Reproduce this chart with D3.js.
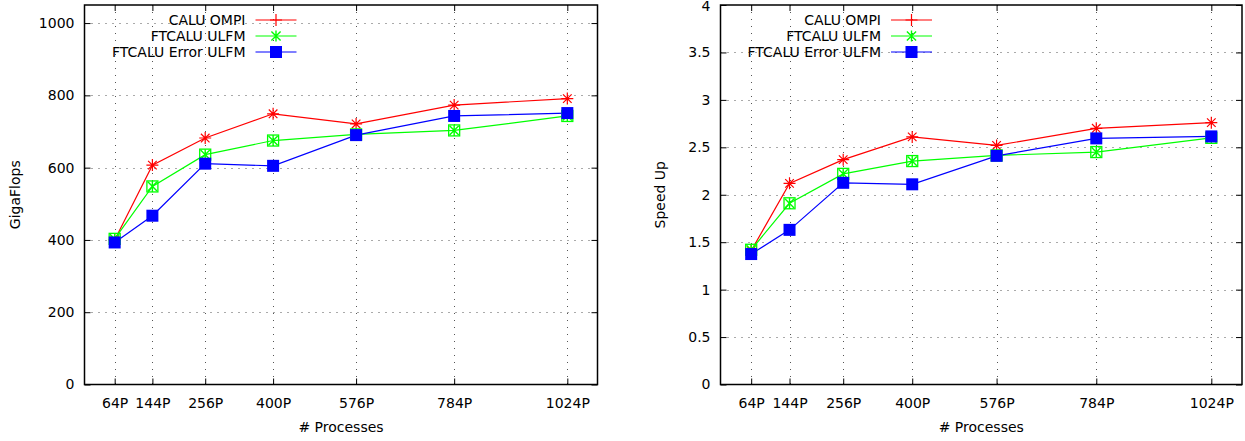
<!DOCTYPE html>
<html>
<head>
<meta charset="utf-8">
<script src="https://cdn.jsdelivr.net/npm/d3@7"></script>
<style>
  body { margin: 0; background: #fff; }
  svg { display: block; }
  text { font-family: "DejaVu Sans", sans-serif; font-size: 14px; fill: #000; }
</style>
</head>
<body>
<svg id="chart" width="1245" height="441"></svg>
<script>
// ---------------- data ----------------
const processes = [64, 144, 256, 400, 576, 784, 1024];
const processLabels = ["64P", "144P", "256P", "400P", "576P", "784P", "1024P"];
const seriesNames = ["CALU OMPI", "FTCALU ULFM", "FTCALU Error ULFM"];

const gflopsCALU    = [400, 607, 682, 749, 721, 773, 791];
const gflopsFTCALU  = [403, 548, 636, 675, 692, 703, 743];
const gflopsError   = [393, 467, 611, 605, 690, 743, 751];

const speedCALU     = [1.41, 2.12, 2.37, 2.61, 2.52, 2.70, 2.76];
const speedFTCALU   = [1.42, 1.91, 2.22, 2.355, 2.415, 2.45, 2.60];
const speedError    = [1.375, 1.63, 2.126, 2.11, 2.41, 2.594, 2.615];

const gflopsTicks = [0, 200, 400, 600, 800, 1000];
const speedTicks  = [0, 0.5, 1, 1.5, 2, 2.5, 3, 3.5, 4];

// ---------------- drawing ----------------
const colors = ["#ff0000", "#00ff00", "#0000ff"];
const svg = d3.select("#chart");

function drawMarker(g, type, x, y, legend) {
  if (type === 0) {
    if (legend) {
      g.append("path").attr("d", `M${x-6},${y}H${x+6}M${x},${y-6}V${y+6}`)
        .attr("stroke", colors[0]).attr("stroke-width", 1.2).attr("fill", "none");
    } else {
      const r = 6, d = 4.3;
      g.append("path").attr("d",
        `M${x-r},${y}H${x+r}M${x},${y-r}V${y+r}M${x-d},${y-d}L${x+d},${y+d}M${x-d},${y+d}L${x+d},${y-d}`)
        .attr("stroke", colors[0]).attr("stroke-width", 1.2).attr("fill", "none");
    }
  } else if (type === 1) {
    const r = 5.5, d = 4.6;
    g.append("path").attr("d",
      `M${x},${y-r}V${y+r}M${x-d},${y-d}L${x+d},${y+d}M${x-d},${y+d}L${x+d},${y-d}`)
      .attr("stroke", colors[1]).attr("stroke-width", 1.4).attr("fill", "none");
    if (!legend) {
      g.append("rect").attr("x", x - 5.5).attr("y", y - 5.5).attr("width", 11).attr("height", 11)
        .attr("stroke", colors[1]).attr("stroke-width", 1.3).attr("fill", "none");
    }
  } else {
    g.append("rect").attr("x", x - 6).attr("y", y - 6).attr("width", 12).attr("height", 12)
      .attr("fill", colors[2]);
  }
}

function panel(opts) {
  const { left, right, top, bottom, yMax, yTicks, ylabel, ylabelX, series, legendX } = opts;
  const x = d3.scaleLinear().domain([0, 1088]).range([left, right]);
  const y = d3.scaleLinear().domain([0, yMax]).range([bottom, top]);
  const g = svg.append("g");

  // grid
  const grid = g.append("g").attr("stroke", "#555").attr("stroke-width", 1)
    .attr("stroke-dasharray", "1,6").attr("fill", "none");
  yTicks.filter(t => t > 0 && y(t) > top + 1).forEach(t => {
    grid.append("line").attr("x1", left).attr("x2", right)
      .attr("y1", Math.round(y(t)) + 0.5).attr("y2", Math.round(y(t)) + 0.5);
  });
  processes.forEach(p => {
    grid.append("line").attr("x1", Math.round(x(p)) + 0.5).attr("x2", Math.round(x(p)) + 0.5)
      .attr("y1", top).attr("y2", bottom);
  });

  // axes (ticks inward, mirrored)
  const yAxis = d3.axisLeft(y).tickValues(yTicks).tickSize(-6).tickPadding(10)
    .tickFormat(d3.format("~g"));
  const ya = g.append("g").attr("transform", `translate(${left},0)`).call(yAxis);
  const xAxis = d3.axisBottom(x).tickValues(processes).tickSize(-6).tickPadding(14)
    .tickFormat((d, i) => processLabels[i]);
  const xa = g.append("g").attr("transform", `translate(0,${bottom})`).call(xAxis);
  const ya2 = g.append("g").attr("transform", `translate(${right},0)`)
    .call(d3.axisRight(y).tickValues(yTicks).tickSize(-6).tickFormat(""));
  const xa2 = g.append("g").attr("transform", `translate(0,${top})`)
    .call(d3.axisTop(x).tickValues(processes).tickSize(-6).tickFormat(""));
  [ya, xa, ya2, xa2].forEach(a => {
    a.select(".domain").remove();
    a.selectAll("text").attr("font-family", "DejaVu Sans").attr("font-size", 14).attr("fill", "#000");
    a.selectAll("line").attr("stroke", "#000");
  });
  // keep the topmost label inside the picture
  ya.selectAll(".tick").filter(d => y(d) < top + 4).select("text").attr("dy", "0.42em");

  // border
  g.append("rect").attr("x", left).attr("y", top).attr("width", right - left).attr("height", bottom - top)
    .attr("fill", "none").attr("stroke", "#000").attr("stroke-width", 1.5);

  // labels
  g.append("text").attr("x", (left + right) / 2).attr("y", bottom + 47)
    .attr("text-anchor", "middle").text("# Processes");
  g.append("text").attr("transform", `translate(${ylabelX},${(top + bottom) / 2}) rotate(-90)`)
    .attr("text-anchor", "middle").text(ylabel);

  // series
  const line = d3.line().x((d, i) => x(processes[i])).y(d => y(d));
  series.forEach((vals, si) => {
    g.append("path").datum(vals).attr("d", line).attr("fill", "none")
      .attr("stroke", colors[si]).attr("stroke-width", 1.2);
  });
  series.forEach((vals, si) => {
    vals.forEach((v, i) => drawMarker(g, si, x(processes[i]), y(v), false));
  });

  // legend
  seriesNames.forEach((name, si) => {
    const ly = 20 + si * 16;
    g.append("text").attr("x", legendX).attr("y", ly).attr("dy", "0.35em")
      .attr("text-anchor", "end").text(name);
    g.append("line").attr("x1", legendX + 10).attr("x2", legendX + 51)
      .attr("y1", ly).attr("y2", ly).attr("stroke", colors[si]).attr("stroke-width", 1.2);
    drawMarker(g, si, legendX + 30.5, ly, true);
  });
}

panel({
  left: 84.5, right: 597.5, top: 5, bottom: 384.5, yMax: 1050,
  yTicks: gflopsTicks, ylabel: "GigaFlops", ylabelX: 20,
  series: [gflopsCALU, gflopsFTCALU, gflopsError], legendX: 245.5
});
panel({
  left: 720.5, right: 1242, top: 5, bottom: 384.5, yMax: 4,
  yTicks: speedTicks, ylabel: "Speed Up", ylabelX: 665,
  series: [speedCALU, speedFTCALU, speedError], legendX: 881
});
</script>
</body>
</html>
